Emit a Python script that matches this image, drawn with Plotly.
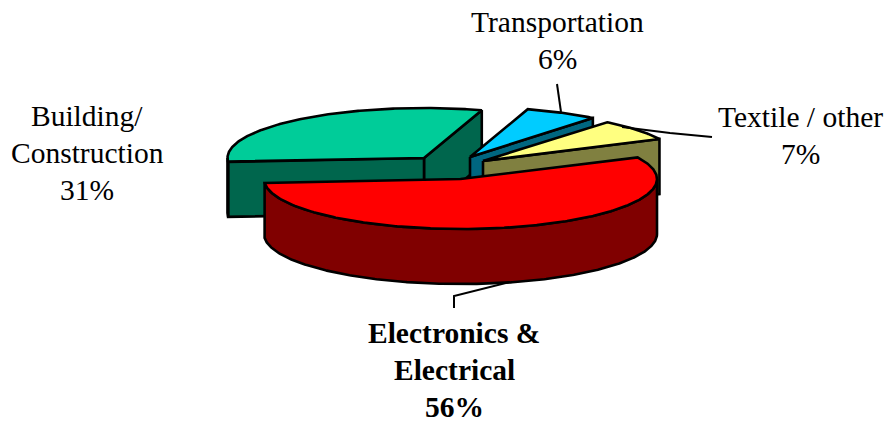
import numpy as np
import plotly.graph_objects as go

# --- data ---
categories = ["Building/<br>Construction", "Transportation", "Textile / other", "Electronics &<br>Electrical"]
values = [31, 6, 7, 56]
bold_label = [False, False, False, True]

# --- style ---
top_colors = ["#00CC99", "#00CCFF", "#FFFF80", "#FF0000"]
wall_colors = ["#00664D", "#006680", "#808040", "#800000"]
label_tops = [(87, 116), (557, 22), (800, 117), (454, 333)]
LINE_STEP = 37
leader_paths = [[], [(557, 84), (561, 112)], [(622, 127), (670, 133), (712, 137)], [(454, 308), (454, 296), (510, 282)]]

RX, RY, DEPTH = 196.5, 50, 55
PIE_CENTRE = (452, 167)
EXPLODE = [(-28, -9), (18, -10), (31, -6), (8.5, 12)]   # slice pull-out from the centre
START_ANGLE = 184.5                                      # left edge of first slice, going clockwise


def arc(cx, cy, a0, a1, dy=0):
    t = np.radians(np.linspace(a0, a1, max(3, int(abs(a1 - a0) * 2))))
    return cx + RX * np.cos(t), cy - RY * np.sin(t) + dy


def poly(fig, xs, ys, color):
    fig.add_trace(go.Scatter(x=np.append(xs, xs[0]), y=np.append(ys, ys[0]), mode="lines", fill="toself",
                             fillcolor=color, line=dict(color="black", width=2.6), hoverinfo="skip", showlegend=False))


def wall(fig, x0, y0, x1, y1, color):
    poly(fig, np.array([x0, x1, x1, x0]), np.array([y0, y1, y1 + DEPTH, y0 + DEPTH]), color)


fig = go.Figure()
a = START_ANGLE
for i, v in enumerate(values):
    span = v / sum(values) * 360
    a0, a1 = a, a - span       # a0 > a1: clockwise
    a = a1
    cx = PIE_CENTRE[0] + EXPLODE[i][0]
    cy = PIE_CENTRE[1] + EXPLODE[i][1]
    tx, ty = arc(cx, cy, a0, a1)
    lx, ly = tx[0], ty[0]      # counter-clockwise end
    rx, ry = tx[-1], ty[-1]    # clockwise end
    if i == 0:       # green: both cut faces show
        wall(fig, cx, cy, rx, ry, wall_colors[i])
        wall(fig, cx, cy, lx, ly, wall_colors[i])
        wx, wy = arc(cx, cy, a0, 180)
        poly(fig, np.r_[wx, wx[::-1]], np.r_[wy, wy[::-1] + DEPTH], wall_colors[i])
    elif i in (1, 2):  # lower cut face only
        wall(fig, cx, cy, rx, ry, wall_colors[i])
    else:            # red: outer rim in front
        wx, wy = arc(cx, cy, 0, a1)
        poly(fig, np.r_[wx, wx[::-1]], np.r_[wy, wy[::-1] + DEPTH], wall_colors[i])
    poly(fig, np.r_[cx, tx], np.r_[cy, ty], top_colors[i])

for path in leader_paths:
    if path:
        fig.add_trace(go.Scatter(x=[p[0] for p in path], y=[p[1] for p in path], mode="lines",
                                 line=dict(color="black", width=2), hoverinfo="skip", showlegend=False))

for c, v, b, (lx, ly) in zip(categories, values, bold_label, label_tops):
    lines = f"{c}<br>{v}%".split("<br>")
    for k, s in enumerate(lines):
        fig.add_annotation(x=lx, y=ly + k * LINE_STEP, xref="x", yref="y", text=f"<b>{s}</b>" if b else s,
                           showarrow=False, align="center", xanchor="center", yanchor="middle",
                           font=dict(family="Liberation Serif", size=29.5, color="black"))

fig.update_layout(width=888, height=423, margin=dict(l=0, r=0, t=0, b=0), paper_bgcolor="white",
                  plot_bgcolor="white", showlegend=False,
                  xaxis=dict(range=[0, 888], visible=False, fixedrange=True),
                  yaxis=dict(range=[423, 0], visible=False, fixedrange=True))
fig.write_html("out.html", config=dict(displayModeBar=False),
               post_script="document.body.style.margin='0';document.documentElement.style.overflow='hidden';")
